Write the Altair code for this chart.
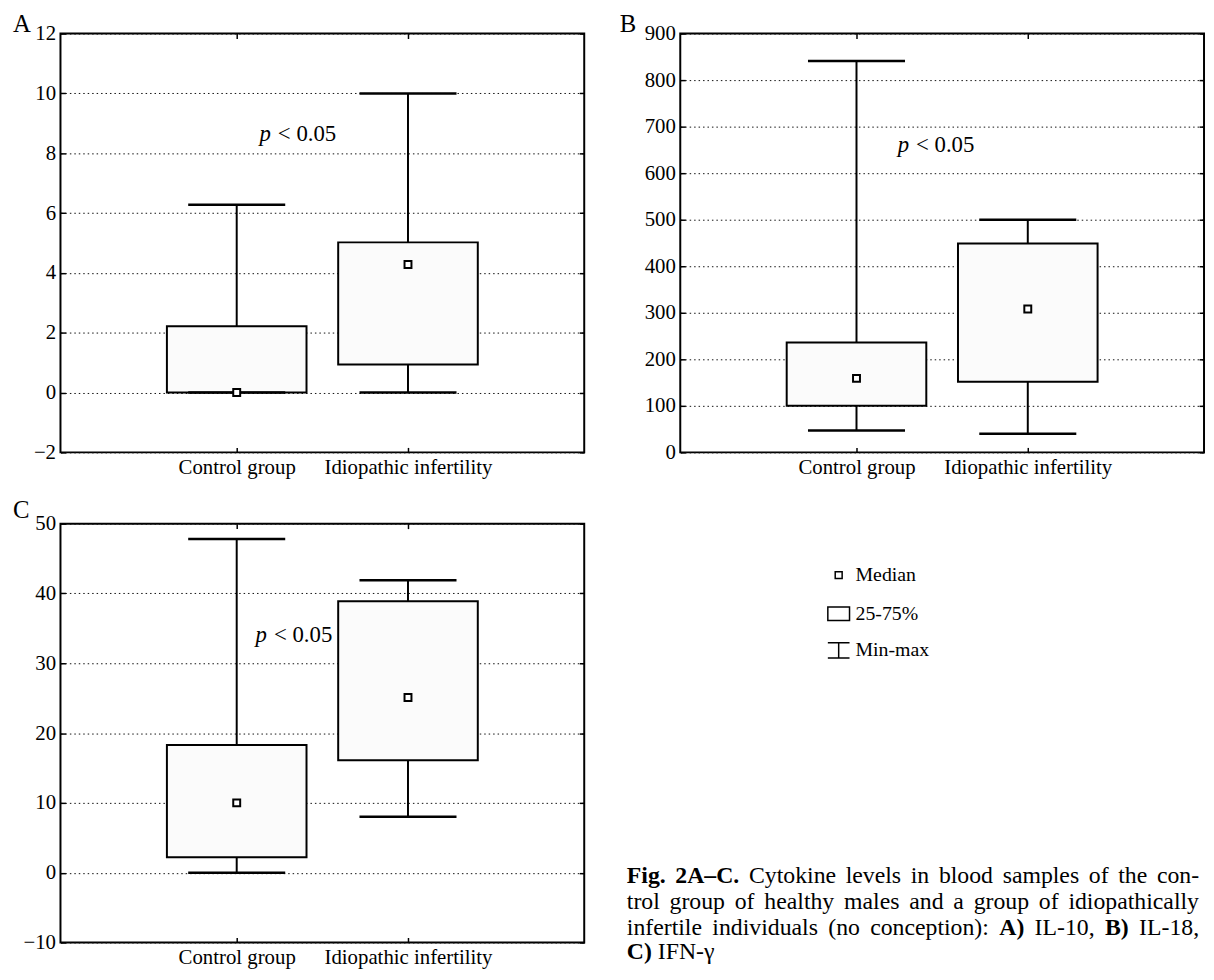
import altair as alt
import pandas as pd

FONT = "Liberation Serif"

groups = ["Control group", "Idiopathic infertility"]
group_pos = [1, 2]

# Panel A: IL-10
a_min = [0.0, 0.0]
a_q1 = [0.0, 0.94]
a_med = [0.0, 4.28]
a_q3 = [2.22, 5.02]
a_max = [6.28, 10.0]
a_ticks = [-2, 0, 2, 4, 6, 8, 10, 12]

# Panel B: IL-18
b_min = [47, 40]
b_q1 = [100, 152]
b_med = [159, 308]
b_q3 = [236, 449]
b_max = [841, 500]
b_ticks = [0, 100, 200, 300, 400, 500, 600, 700, 800, 900]

# Panel C: IFN-gamma
c_min = [0.0, 8.0]
c_q1 = [2.2, 16.1]
c_med = [10.0, 25.1]
c_q3 = [18.3, 38.9]
c_max = [47.8, 41.9]
c_ticks = [-10, 0, 10, 20, 30, 40, 50]

legend_items = ["Median", "25-75%", "Min-max"]

# caption words: (text, weight); lines 1-3 are justified
caption_lines = [
    [("Fig.", "bold"), ("2A–C.", "bold"), ("Cytokine", "normal"), ("levels", "normal"),
     ("in", "normal"), ("blood", "normal"), ("samples", "normal"), ("of", "normal"),
     ("the", "normal"), ("con-", "normal")],
    [("trol", "normal"), ("group", "normal"), ("of", "normal"), ("healthy", "normal"),
     ("males", "normal"), ("and", "normal"), ("a", "normal"), ("group", "normal"),
     ("of", "normal"), ("idiopathically", "normal")],
    [("infertile", "normal"), ("individuals", "normal"), ("(no", "normal"),
     ("conception):", "normal"), ("A)", "bold"), ("IL-10,", "normal"), ("B)", "bold"),
     ("IL-18,", "normal")],
    [("C)", "bold"), ("IFN-γ", "normal")],
]
caption_justify = [True, True, True, False]

W, H = 529, 423
LABEL_SIZE = 21
CAP_SIZE = 24

# Times-compatible advance widths (per 1000 em) used only to lay out the justified caption
REG = {" ": 250, "(": 333, ")": 333, ",": 250, "-": 333, ".": 250, ":": 278, "–": 500, "γ": 411,
       "A": 722, "B": 667, "C": 667, "F": 556, "I": 333, "L": 611, "N": 722,
       "a": 444, "b": 500, "c": 444, "d": 500, "e": 444, "f": 333, "g": 500, "h": 500, "i": 278,
       "k": 500, "l": 278, "m": 778, "n": 500, "o": 500, "p": 500, "r": 333, "s": 389, "t": 278,
       "u": 500, "v": 500, "y": 500}
BOLD = dict(REG, **{"A": 722, "B": 667, "C": 722, "F": 611, "g": 500, "i": 278})
for d in "0123456789":
    REG[d] = 500
    BOLD[d] = 500


def text_width(txt, weight, size):
    table = BOLD if weight == "bold" else REG
    return sum(table.get(ch, 500) for ch in txt) * size / 1000.0


def one_row():
    return alt.Chart(pd.DataFrame({"k": [0]}))


def panel(letter, mins, q1s, meds, q3s, maxs, ticks, p_x, p_y, letter_x, letter_y):
    df = pd.DataFrame({"group": groups, "pos": group_pos, "min": mins, "q1": q1s,
                       "med": meds, "q3": q3s, "max": maxs})
    xscale = alt.Scale(domain=[0, 3], nice=False, zero=False)
    yscale = alt.Scale(domain=[ticks[0], ticks[-1]], nice=False, zero=False)
    label_expr = f"datum.value == {group_pos[0]} ? '{groups[0]}' : '{groups[1]}'"
    x_bottom = alt.Axis(orient="bottom", values=group_pos, labelExpr=label_expr, grid=False,
                        domain=False, tickSize=5, offset=-5, labelPadding=4, title=None)
    y_left = alt.Axis(orient="left", values=ticks, grid=True, gridDash=[1.5, 3], gridColor="#111",
                      gridWidth=1, domain=False, tickSize=5, offset=-5, labelPadding=5, title=None)
    x_top = alt.Axis(orient="top", values=group_pos, labels=False, grid=False, domain=False,
                     tickSize=5, offset=-5, title=None)
    y_right = alt.Axis(orient="right", values=ticks, labels=False, grid=False, domain=False,
                       tickSize=5, offset=-5, title=None)

    base = alt.Chart(df)
    whisk = base.mark_rule(color="black", strokeWidth=2).encode(
        x=alt.X("pos:Q", scale=xscale, axis=x_bottom),
        y=alt.Y("min:Q", scale=yscale, axis=y_left),
        y2="max:Q",
    )
    box = base.mark_bar(size=141, fill="#fbfbfb", stroke="black", strokeWidth=2).encode(
        x=alt.X("pos:Q", axis=None), y=alt.Y("q1:Q", axis=None), y2="q3:Q"
    )
    cap_hi = base.mark_tick(orient="horizontal", size=98, thickness=2.5, color="black", opacity=1).encode(
        x=alt.X("pos:Q", axis=None), y=alt.Y("max:Q", axis=None)
    )
    cap_lo = base.mark_tick(orient="horizontal", size=98, thickness=2.5, color="black", opacity=1).encode(
        x=alt.X("pos:Q", axis=None), y=alt.Y("min:Q", axis=None)
    )
    med = base.mark_square(size=49, fill="white", stroke="black", strokeWidth=2, opacity=1).encode(
        x=alt.X("pos:Q", axis=x_top), y=alt.Y("med:Q", axis=y_right)
    )
    p_it = one_row().mark_text(text="p", font=FONT, fontStyle="italic", fontSize=23,
                               align="right", baseline="middle", dx=-3.5, color="black").encode(
        x=alt.XDatum(p_x, axis=None), y=alt.YDatum(p_y, axis=None)
    )
    p_rest = one_row().mark_text(text="< 0.05", font=FONT, fontSize=23,
                                 align="left", baseline="middle", dx=3.5, color="black").encode(
        x=alt.XDatum(p_x, axis=None), y=alt.YDatum(p_y, axis=None)
    )
    let = one_row().mark_text(text=letter, font=FONT, fontSize=25, align="left",
                              baseline="alphabetic", color="black").encode(
        x=alt.value(letter_x), y=alt.value(letter_y)
    )
    return [whisk, box, cap_hi, cap_lo, med, p_it, p_rest, let]


layers_a = panel("A", a_min, a_q1, a_med, a_q3, a_max, a_ticks, 1.22, 8.65, -48, -2)
layers_b = panel("B", b_min, b_q1, b_med, b_q3, b_max, b_ticks, 1.327, 660, -61, -2)
layers_c = panel("C", c_min, c_q1, c_med, c_q3, c_max, c_ticks, 1.197, 34.1, -48, -6)

# legend (drawn beside panel C)
LEG_X, LEG_TX = 786, 803
leg_y = [52, 91, 128]
leg_sym = one_row().mark_square(size=49, fill="white", stroke="black", strokeWidth=1.5, opacity=1).encode(
    x=alt.value(LEG_X), y=alt.value(leg_y[0]))
leg_box = one_row().mark_point(shape="M-1,-0.62H1V0.62H-1Z", size=480, filled=False, color="black",
                               strokeWidth=1.5, opacity=1).encode(x=alt.value(LEG_X), y=alt.value(leg_y[1]))
leg_mm = one_row().mark_point(shape="M-1,-0.7H1M0,-0.7V0.7M-1,0.7H1", size=480, filled=False,
                              color="black", strokeWidth=1.5, opacity=1).encode(
    x=alt.value(LEG_X), y=alt.value(leg_y[2]))
leg_texts = [
    one_row().mark_text(text=t, font=FONT, fontSize=20, align="left", baseline="middle",
                        color="black").encode(x=alt.value(LEG_TX), y=alt.value(yy))
    for t, yy in zip(legend_items, leg_y)
]

# caption (drawn beside panel C), justified lines
CAP_X, CAP_W = 572, 578
caption_baselines = [363, 389, 415, 440]
cap_layers = []
for words, just, yb in zip(caption_lines, caption_justify, caption_baselines):
    widths = [text_width(t, w, CAP_SIZE) for t, w in words]
    if just and len(words) > 1:
        gap = (CAP_W - sum(widths)) / (len(words) - 1)
    else:
        gap = 0.25 * CAP_SIZE
    xpos = CAP_X
    for (txt, wt), wd in zip(words, widths):
        cap_layers.append(
            one_row().mark_text(text=txt, font=FONT, fontSize=CAP_SIZE, fontWeight=wt, align="left",
                                baseline="alphabetic", color="black").encode(
                x=alt.value(round(xpos, 1)), y=alt.value(yb))
        )
        xpos += wd + gap

chart_a = alt.layer(*layers_a).properties(width=W, height=H)
chart_b = alt.layer(*layers_b).properties(width=W, height=H)
chart_c = alt.layer(*layers_c, leg_sym, leg_box, leg_mm, *leg_texts, *cap_layers).properties(width=W, height=H)

chart = (
    alt.vconcat(alt.hconcat(chart_a, chart_b, spacing=33), chart_c, spacing=19)
    .properties(padding={"left": 4, "top": -2, "right": 0, "bottom": 0})
    .configure_view(stroke="black", strokeWidth=2)
    .configure_axis(labelFont=FONT, labelFontSize=LABEL_SIZE, labelColor="black",
                    tickColor="black", tickWidth=1.5)
    .configure_text(font=FONT)
)

chart.save("out.html", embed_options={"renderer": "svg", "actions": False})
